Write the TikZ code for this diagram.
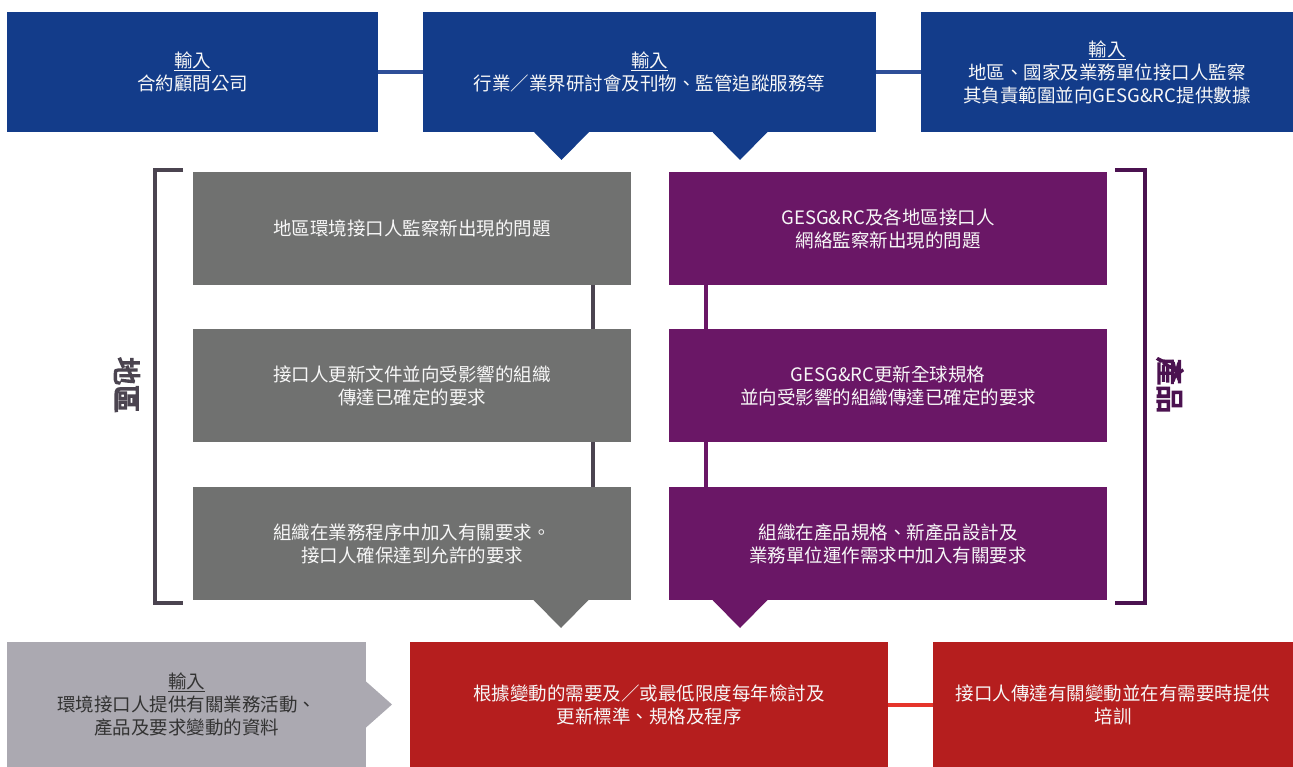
\documentclass[tikz,border=0pt]{standalone}
\usepackage{fontspec}
\setmainfont{Noto Sans CJK TC}
\newfontfamily\heavycjk{Noto Sans CJK TC}[FakeBold=5]
\usepackage{tikz}
\usetikzlibrary{positioning}

\definecolor{inblue}{HTML}{133C8A}
\definecolor{linkblue}{HTML}{2E4F98}
\definecolor{boxgray}{HTML}{707170}
\definecolor{boxpurple}{HTML}{6A1766}
\definecolor{boxred}{HTML}{B51E1E}
\definecolor{linkred}{HTML}{E5352B}
\definecolor{lightin}{HTML}{ABA9B1}
\definecolor{brackgray}{HTML}{4B4450}
\definecolor{brackpurple}{HTML}{4B1250}

\begin{document}
\begin{tikzpicture}[
    x=1pt, y=1pt,
    box/.style={rectangle, inner sep=0pt, outer sep=0pt, align=center, text=white!94!gray, font=\fontsize{18.5}{23}\selectfont},
    input/.style={box, fill=inblue, minimum height=120pt},
    region/.style={box, fill=boxgray, minimum width=438pt, minimum height=113pt},
    product/.style={box, fill=boxpurple, minimum width=438pt, minimum height=113pt},
    review/.style={box, fill=boxred, minimum height=125pt},
    sidelabel/.style={rotate=-90, font=\fontsize{28}{30}\selectfont\heavycjk},
    link/.style={line width=4pt},
    bracket/.style={line width=4pt}
]
\useasboundingbox (0,0) rectangle (1293,-767);

% Inputs
\node[input, minimum width=371pt] (in1) at (192.5,-72) {\underline{輸入}\\合約顧問公司};
\node[input, minimum width=453pt, right=45pt of in1] (in2) {\underline{輸入}\\行業／業界研討會及刊物、監管追蹤服務等};
\node[input, minimum width=372pt, right=45pt of in2] (in3) {\underline{輸入}\\地區、國家及業務單位接口人監察\\其負責範圍並向GESG\&RC提供數據};

% Region column
\node[region] (g1) at (412,-228.5) {地區環境接口人監察新出現的問題};
\node[region, below=44pt of g1] (g2) {接口人更新文件並向受影響的組織\\傳達已確定的要求};
\node[region, below=45pt of g2] (g3) {組織在業務程序中加入有關要求。\\接口人確保達到允許的要求};

% Product column
\node[product, right=38pt of g1] (p1) {GESG\&RC及各地區接口人\\網絡監察新出現的問題};
\node[product, right=38pt of g2] (p2) {GESG\&RC更新全球規格\\並向受影響的組織傳達已確定的要求};
\node[product, right=38pt of g3] (p3) {組織在產品規格、新產品設計及\\業務單位運作需求中加入有關要求};

% Review
\node[box, fill=lightin, text=black!80, minimum width=359pt, minimum height=125pt] (b0) at (186.5,-704.5) {\underline{輸入}\\環境接口人提供有關業務活動、\\產品及要求變動的資料};
\node[review, minimum width=478pt] (r1) at (649,-704.5) {根據變動的需要及／或最低限度每年檢討及\\更新標準、規格及程序};
\node[review, minimum width=360pt, right=45pt of r1] (r2) {接口人傳達有關變動並在有需要時提供\\培訓};

% Side labels
\node[sidelabel, text=brackgray] (reg) at (127,-385) {地區};
\node[sidelabel, text=brackpurple] (prod) at (1170,-385) {產品};

% Links
\draw[link, linkblue] (in1) -- (in2);
\draw[link, linkblue] (in2) -- (in3);
\draw[link, brackgray] ([xshift=-38pt]g1.south east) -- ([xshift=-38pt]g2.north east);
\draw[link, brackgray] ([xshift=-38pt]g2.south east) -- ([xshift=-38pt]g3.north east);
\draw[link, boxpurple] ([xshift=37pt]p1.south west) -- ([xshift=37pt]p2.north west);
\draw[link, boxpurple] ([xshift=37pt]p2.south west) -- ([xshift=37pt]p3.north west);
\draw[link, linkred] (r1) -- (r2);

% Brackets
\draw[bracket, brackgray] ([xshift=-10pt,yshift=2pt]g1.north west) -- ++(-28,0) |- ([xshift=-10pt,yshift=-3pt]g3.south west);
\draw[bracket, brackpurple] ([xshift=8pt,yshift=2pt]p1.north east) -- ++(30,0) |- ([xshift=8pt,yshift=-3pt]p3.south east);

% Pointers
\fill[inblue] ([xshift=-88pt]in2.south) ++(-27.5,0) -- ++(55,0) -- ++(-27.5,-28) -- cycle;
\fill[inblue] ([xshift=90.5pt]in2.south) ++(-27.5,0) -- ++(55,0) -- ++(-27.5,-28) -- cycle;
\fill[boxgray] ([xshift=-70pt]g3.south east) ++(-27.5,0) -- ++(55,0) -- ++(-27.5,-28) -- cycle;
\fill[boxpurple] ([xshift=71pt]p3.south west) ++(-27.5,0) -- ++(55,0) -- ++(-27.5,-28) -- cycle;
\fill[lightin] (b0.east) ++(0,23) -- ++(26,-23) -- ++(-26,-23) -- cycle;

\end{tikzpicture}
\end{document}
